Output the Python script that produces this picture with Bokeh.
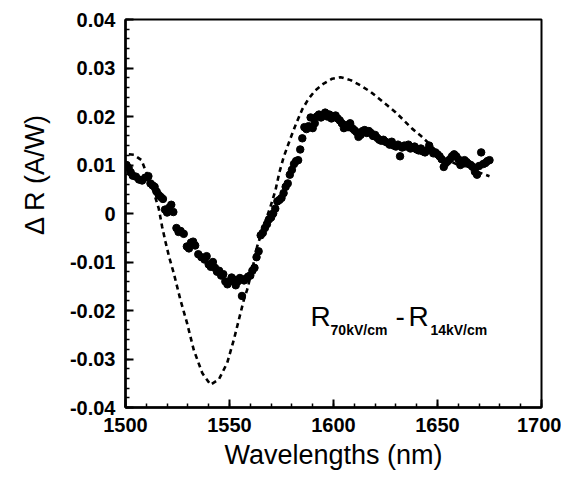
from bokeh.plotting import figure
from bokeh.models import FixedTicker, Label, Range1d, Title
from bokeh.embed import file_html
from bokeh.resources import INLINE

# ---- data ----
meas_x = [1500.5, 1501.5, 1502.5, 1503.5, 1505, 1506.5, 1508, 1509.5, 1511, 1512, 1513, 1514, 1515, 1516,
          1517, 1518, 1519, 1520, 1521, 1522, 1523, 1524.5, 1525.5, 1526.5, 1528, 1529.5, 1530.5, 1531.5,
          1532.5, 1533.5, 1535, 1536.5, 1538, 1539, 1540, 1541, 1542, 1543, 1544, 1545, 1546, 1547, 1548,
          1549, 1550, 1551, 1552, 1553, 1554, 1555, 1556, 1557, 1558, 1559, 1560, 1561, 1562, 1563, 1564,
          1565, 1566, 1567, 1568, 1569, 1570, 1571, 1572, 1573, 1574, 1575, 1576, 1577, 1578, 1579, 1580,
          1581, 1582, 1583, 1584, 1585, 1586, 1587, 1588, 1589, 1590, 1591, 1592, 1593, 1594, 1595, 1596,
          1597, 1598, 1599, 1600, 1601, 1602, 1603, 1604, 1605, 1606, 1607, 1608, 1609, 1610, 1611, 1612,
          1613, 1614, 1615, 1616, 1617, 1618, 1619, 1620, 1621, 1622, 1623, 1624, 1625, 1626, 1627, 1628,
          1629, 1630, 1631, 1632, 1633, 1634, 1635, 1636, 1637, 1638, 1639, 1640, 1641, 1642, 1643, 1644,
          1645, 1646, 1647, 1648, 1649, 1650, 1651, 1652, 1653, 1654, 1655, 1656, 1657, 1658, 1659, 1660,
          1661, 1662, 1663, 1664, 1665, 1666, 1667, 1668, 1669, 1670, 1671, 1672, 1673, 1674, 1675]
meas_y = [0.0100, 0.0094, 0.0085, 0.0078, 0.0076, 0.0070, 0.0068, 0.0074, 0.0077, 0.0062, 0.0058, 0.0055,
          0.0045, 0.0038, 0.0034, 0.0030, 0.0008, 0.0002, 0.0012, 0.0018, 0.0003, -0.0030, -0.0038, -0.0036,
          -0.0042, -0.0068, -0.0072, -0.0060, -0.0058, -0.0066, -0.0084, -0.0090, -0.0095, -0.0088, -0.0105,
          -0.0110, -0.0100, -0.0112, -0.0120, -0.0118, -0.0128, -0.0125, -0.0140, -0.0146, -0.0140, -0.0132,
          -0.0136, -0.0148, -0.0140, -0.0133, -0.0170, -0.0138, -0.0134, -0.0130, -0.0128, -0.0118, -0.0112,
          -0.0090, -0.0078, -0.0045, -0.0040, -0.0030, -0.0022, -0.0012, -0.0008, 0.0000, 0.0010, 0.0025,
          0.0028, 0.0032, 0.0042, 0.0055, 0.0062, 0.0080, 0.0090, 0.0102, 0.0108, 0.0110, 0.0132, 0.0155,
          0.0178, 0.0174, 0.0180, 0.0198, 0.0176, 0.0186, 0.0200, 0.0204, 0.0198, 0.0202, 0.0208, 0.0200,
          0.0204, 0.0196, 0.0200, 0.0202, 0.0196, 0.0192, 0.0186, 0.0176, 0.0182, 0.0178, 0.0186, 0.0176,
          0.0172, 0.0168, 0.0158, 0.0162, 0.0170, 0.0172, 0.0166, 0.0170, 0.0166, 0.0160, 0.0162, 0.0156,
          0.0152, 0.0150, 0.0152, 0.0148, 0.0146, 0.0142, 0.0148, 0.0140, 0.0138, 0.0142, 0.0118, 0.0136,
          0.0140, 0.0138, 0.0142, 0.0134, 0.0136, 0.0138, 0.0132, 0.0130, 0.0134, 0.0128, 0.0126, 0.0130,
          0.0140, 0.0130, 0.0124, 0.0126, 0.0122, 0.0118, 0.0112, 0.0096, 0.0104, 0.0108, 0.0112, 0.0118,
          0.0122, 0.0118, 0.0112, 0.0100, 0.0108, 0.0110, 0.0106, 0.0102, 0.0100, 0.0096, 0.0086, 0.0080,
          0.0098, 0.0126, 0.0102, 0.0104, 0.0108, 0.0110]

model_x = [1501.6, 1504, 1507.7, 1509.6, 1511.2, 1513.5, 1516, 1517.6, 1519.2, 1521, 1523.2, 1526.4, 1529.6,
           1532.8, 1536.9, 1540.9, 1544.9, 1548.9, 1552.1, 1554.5, 1556.9, 1558.5, 1560.9, 1563.3, 1566.5,
           1569.7, 1572.1, 1574, 1576.1, 1579.3, 1582, 1585, 1588.1, 1591.3, 1595.3, 1599.4, 1603.4, 1608.2,
           1613, 1617.8, 1621.8, 1625.8, 1629.8, 1633.8, 1637.8, 1641.8, 1645, 1648.9, 1653.8, 1659, 1664.3,
           1669.1, 1675]
model_y = [0.0122, 0.0121, 0.0110, 0.0089, 0.0072, 0.0045, 0.0010, -0.0027, -0.0058, -0.0090, -0.0123,
           -0.0178, -0.0226, -0.0281, -0.0329, -0.0353, -0.0342, -0.0308, -0.0260, -0.0219, -0.0178, -0.0157,
           -0.0116, -0.0068, -0.0025, 0.0014, 0.0048, 0.0085, 0.0117, 0.0155, 0.0185, 0.0215, 0.0237, 0.0254,
           0.0268, 0.0278, 0.0281, 0.0275, 0.0264, 0.0251, 0.0237, 0.0223, 0.0209, 0.0192, 0.0175, 0.0161,
           0.0148, 0.0131, 0.0112, 0.0102, 0.0096, 0.0086, 0.0077]

x_ticks = [1500, 1550, 1600, 1650, 1700]
x_minor = list(range(1500, 1701, 10))
y_ticks = [-0.04, -0.03, -0.02, -0.01, 0.0, 0.01, 0.02, 0.03, 0.04]
y_tick_labels = ["-0.04", "-0.03", "-0.02", "-0.01", "0", "0.01", "0.02", "0.03", "0.04"]
y_minor = [round(-0.04 + 0.002 * i, 4) for i in range(41)]

FONT = "Liberation Sans"

p = figure(width=561, height=472, output_backend="svg", toolbar_location=None,
           x_range=Range1d(1500, 1700), y_range=Range1d(-0.04, 0.04),
           min_border_left=125, min_border_right=20, min_border_top=19, min_border_bottom=64)
p.grid.visible = False
p.background_fill_color = "white"
p.border_fill_color = "white"
p.outline_line_color = "black"
p.outline_line_width = 2

for ax in (p.xaxis[0], p.yaxis[0]):
    ax.axis_line_width = 2.5
    ax.major_tick_in = 8
    ax.major_tick_out = 0
    ax.minor_tick_in = 4
    ax.minor_tick_out = 0
    ax.major_tick_line_width = 2
    ax.minor_tick_line_width = 1.5
    ax.major_label_text_font = FONT
    ax.major_label_text_font_style = "bold"
    ax.major_label_text_font_size = "20px"
    ax.major_label_text_color = "black"

p.xaxis.ticker = FixedTicker(ticks=x_ticks, minor_ticks=x_minor)
p.yaxis.ticker = FixedTicker(ticks=y_ticks, minor_ticks=y_minor)
p.yaxis.major_label_overrides = {v: s for v, s in zip(y_ticks, y_tick_labels)}
p.xaxis.major_label_standoff = 10
p.yaxis.major_label_standoff = 10

p.xaxis.axis_label = "Wavelengths (nm)"
p.xaxis.axis_label_text_font = FONT
p.xaxis.axis_label_text_font_style = "normal"
p.xaxis.axis_label_text_font_size = "27px"
p.xaxis.axis_label_text_color = "black"
p.xaxis.axis_label_standoff = 5

# y axis title, placed in the left panel and shifted toward the top
p.add_layout(Title(text="\u0394 R (A/W)", align="right", offset=94, vertical_align="middle",
                   text_font=FONT, text_font_style="normal", text_font_size="27px",
                   text_color="black", standoff=32), "left")

# model curve (dashed) and measured points
p.line(model_x, model_y, line_color="black", line_width=2.6, line_dash="5 4")
p.scatter(meas_x, meas_y, size=7.5, color="black")

# in-plot annotation R_70kV/cm - R_14kV/cm
big = dict(text_font=FONT, text_font_size="28px", text_color="black", text_baseline="alphabetic")
small = dict(text_font=FONT, text_font_size="14px", text_font_style="bold", text_color="black",
             text_baseline="alphabetic")
p.add_layout(Label(x=1588.9, y=-0.0213, text="R", **big))
p.add_layout(Label(x=1598.6, y=-0.0240, text="70kV/cm", **small))
p.add_layout(Label(x=1629.8, y=-0.0213, text="-", **big))
p.add_layout(Label(x=1636.1, y=-0.0213, text="R", **big))
p.add_layout(Label(x=1646.6, y=-0.0240, text="14kV/cm", **small))

open("out.html", "w").write(file_html(p, INLINE))
